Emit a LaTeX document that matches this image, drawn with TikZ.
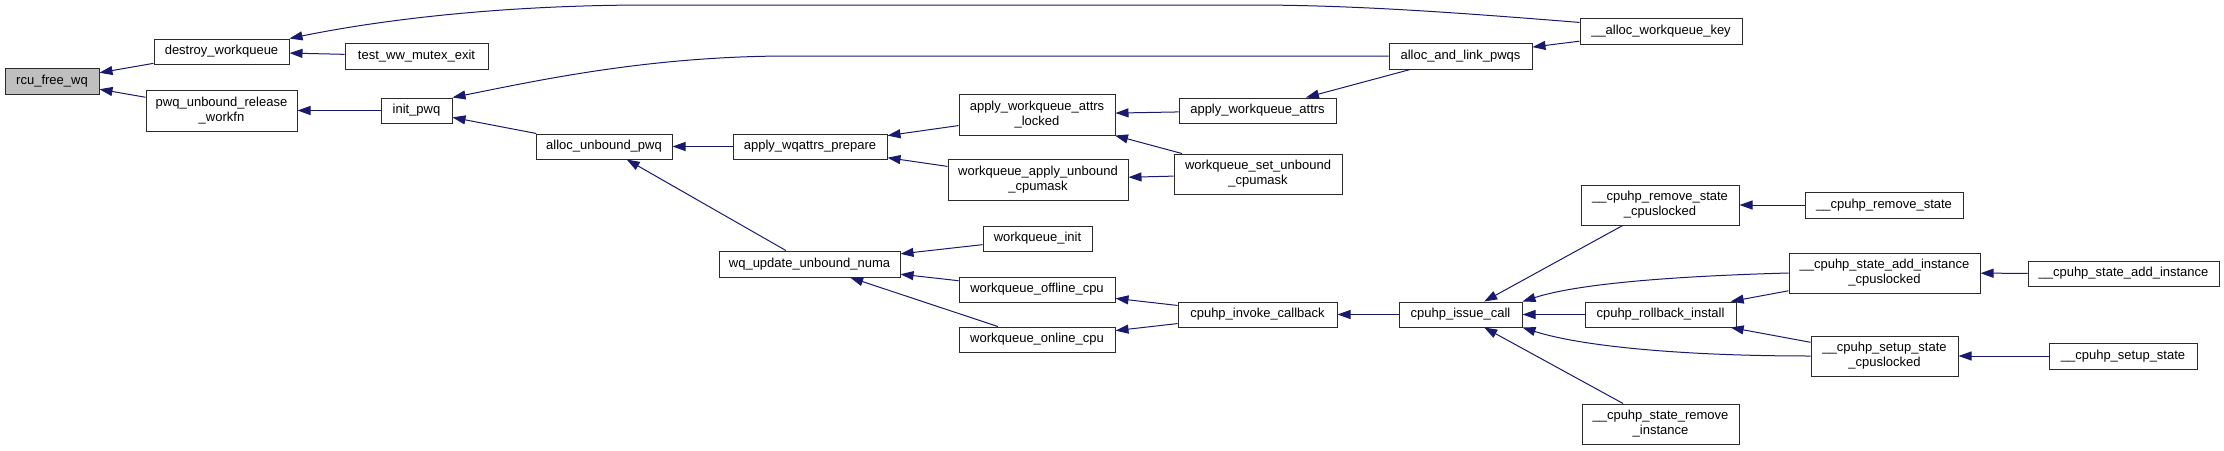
\documentclass[tikz,border=0pt]{standalone}
\usepackage{fontspec}
\setmainfont{Liberation Sans}
\usetikzlibrary{arrows.meta}
\definecolor{dxblue}{HTML}{191970}
\definecolor{dxgray}{HTML}{BFBFBF}
\definecolor{dxline}{HTML}{2A2A2A}

\begin{document}
\begin{tikzpicture}[x=1pt,y=-1pt,
    fn/.style={draw=dxline,fill=white,line width=1pt,inner sep=0pt,align=center,
      minimum height=25pt,font=\fontsize{13}{15}\selectfont},
    fnn/.style={fn,minimum height=40pt},
    cur/.style={fn,fill=dxgray},
    e/.style={-{Triangle[length=13pt,width=9pt]},dxblue,line width=1pt}]
    \useasboundingbox (0,0) rectangle (2224,450);
    \node[cur,minimum width=94pt,minimum height=26pt] (rcu) at (52,81) {rcu\_free\_wq};
    \node[fn,minimum width=135pt] (destroy) at (221.5,51.5) {destroy\_workqueue};
    \node[fn,minimum width=143pt,minimum height=26pt] (testww) at (416.5,56) {test\_ww\_mutex\_exit};
    \node[fnn,minimum width=151pt,minimum height=41pt] (pwqrel) at (221.5,110.5) {pwq\_unbound\_release\\\_workfn};
    \node[fn,minimum width=71pt] (initpwq) at (416.5,110.5) {init\_pwq};
    \node[fn,minimum width=136pt] (allocunb) at (604,146.5) {alloc\_unbound\_pwq};
    \node[fn,minimum width=154pt] (prepare) at (810,146.5) {apply\_wqattrs\_prepare};
    \node[fnn,minimum width=156pt,minimum height=41pt] (locked) at (1037,114.5) {apply\_workqueue\_attrs\\\_locked};
    \node[fnn,minimum width=180pt,minimum height=41pt] (applymask) at (1038,179.5) {workqueue\_apply\_unbound\\\_cpumask};
    \node[fn,minimum width=157pt] (applyattrs) at (1257.5,110.5) {apply\_workqueue\_attrs};
    \node[fnn,minimum width=168pt] (setmask) at (1258,174) {workqueue\_set\_unbound\\\_cpumask};
    \node[fn,minimum width=143pt,minimum height=26pt] (alloclink) at (1460.5,56) {alloc\_and\_link\_pwqs};
    \node[fn,minimum width=162pt,minimum height=26pt] (allockey) at (1661,31) {\_\_alloc\_workqueue\_key};
    \node[fn,minimum width=181pt,minimum height=26pt] (wqupdate) at (809.5,264) {wq\_update\_unbound\_numa};
    \node[fn,minimum width=109pt] (wqinit) at (1037.5,238.5) {workqueue\_init};
    \node[fn,minimum width=156pt] (offline) at (1037,289.5) {workqueue\_offline\_cpu};
    \node[fn,minimum width=156pt] (online) at (1037,339.5) {workqueue\_online\_cpu};
    \node[fn,minimum width=159pt] (invoke) at (1257.5,314.5) {cpuhp\_invoke\_callback};
    \node[fn,minimum width=123pt] (issue) at (1460.5,314.5) {cpuhp\_issue\_call};
    \node[fnn,minimum width=158pt] (rmcpus) at (1660,205) {\_\_cpuhp\_remove\_state\\\_cpuslocked};
    \node[fn,minimum width=151pt] (rollback) at (1660.5,314.5) {cpuhp\_rollback\_install};
    \node[fnn,minimum width=157pt] (rminst) at (1660.5,424) {\_\_cpuhp\_state\_remove\\\_instance};
    \node[fnn,minimum width=191pt] (addcpus) at (1884.5,273) {\_\_cpuhp\_state\_add\_instance\\\_cpuslocked};
    \node[fnn,minimum width=147pt] (setupcpus) at (1884.5,356) {\_\_cpuhp\_setup\_state\\\_cpuslocked};
    \node[fn,minimum width=158pt,minimum height=26pt] (rmstate) at (1884,205) {\_\_cpuhp\_remove\_state};
    \node[fn,minimum width=191pt] (addinst) at (2123.5,273.5) {\_\_cpuhp\_state\_add\_instance};
    \node[fn,minimum width=148pt,minimum height=26pt] (setup) at (2123,356) {\_\_cpuhp\_setup\_state};
    \draw[e] (destroy)--(rcu); \draw[e] (pwqrel)--(rcu);
    \draw[e] (testww)--(destroy); \draw[e] (initpwq)--(pwqrel);
    \draw[e] (allockey.174) .. controls (1450,12) and (1350,5) .. (1250,5) -- (650,5)
      .. controls (500,5) and (380,20) .. (destroy.north east);
    \draw[e] (alloclink.west) -- (790,56) .. controls (650,56) and (540,80) .. (initpwq.north east);
    \draw[e] (allocunb)--(initpwq); \draw[e] (prepare)--(allocunb); \draw[e] (wqupdate)--(allocunb);
    \draw[e] (locked)--(prepare); \draw[e] (applymask)--(prepare);
    \draw[e] (applyattrs)--(locked); \draw[e] (setmask)--(locked); \draw[e] (setmask)--(applymask);
    \draw[e] (alloclink)--(applyattrs); \draw[e] (allockey)--(alloclink);
    \draw[e] (wqinit)--(wqupdate); \draw[e] (offline)--(wqupdate); \draw[e] (online)--(wqupdate);
    \draw[e] (invoke)--(offline); \draw[e] (invoke)--(online); \draw[e] (issue)--(invoke);
    \draw[e] (rmcpus)--(issue); \draw[e] (rollback)--(issue); \draw[e] (rminst)--(issue);
    \draw[e] (addcpus.west) .. controls (1680,276) and (1580,283) .. (issue.north east);
    \draw[e] (setupcpus.west) .. controls (1680,356) and (1580,346) .. (issue.south east);
    \draw[e] (addcpus)--(rollback); \draw[e] (setupcpus)--(rollback);
    \draw[e] (rmstate)--(rmcpus); \draw[e] (addinst)--(addcpus); \draw[e] (setup)--(setupcpus);
  \end{tikzpicture}
\end{document}
